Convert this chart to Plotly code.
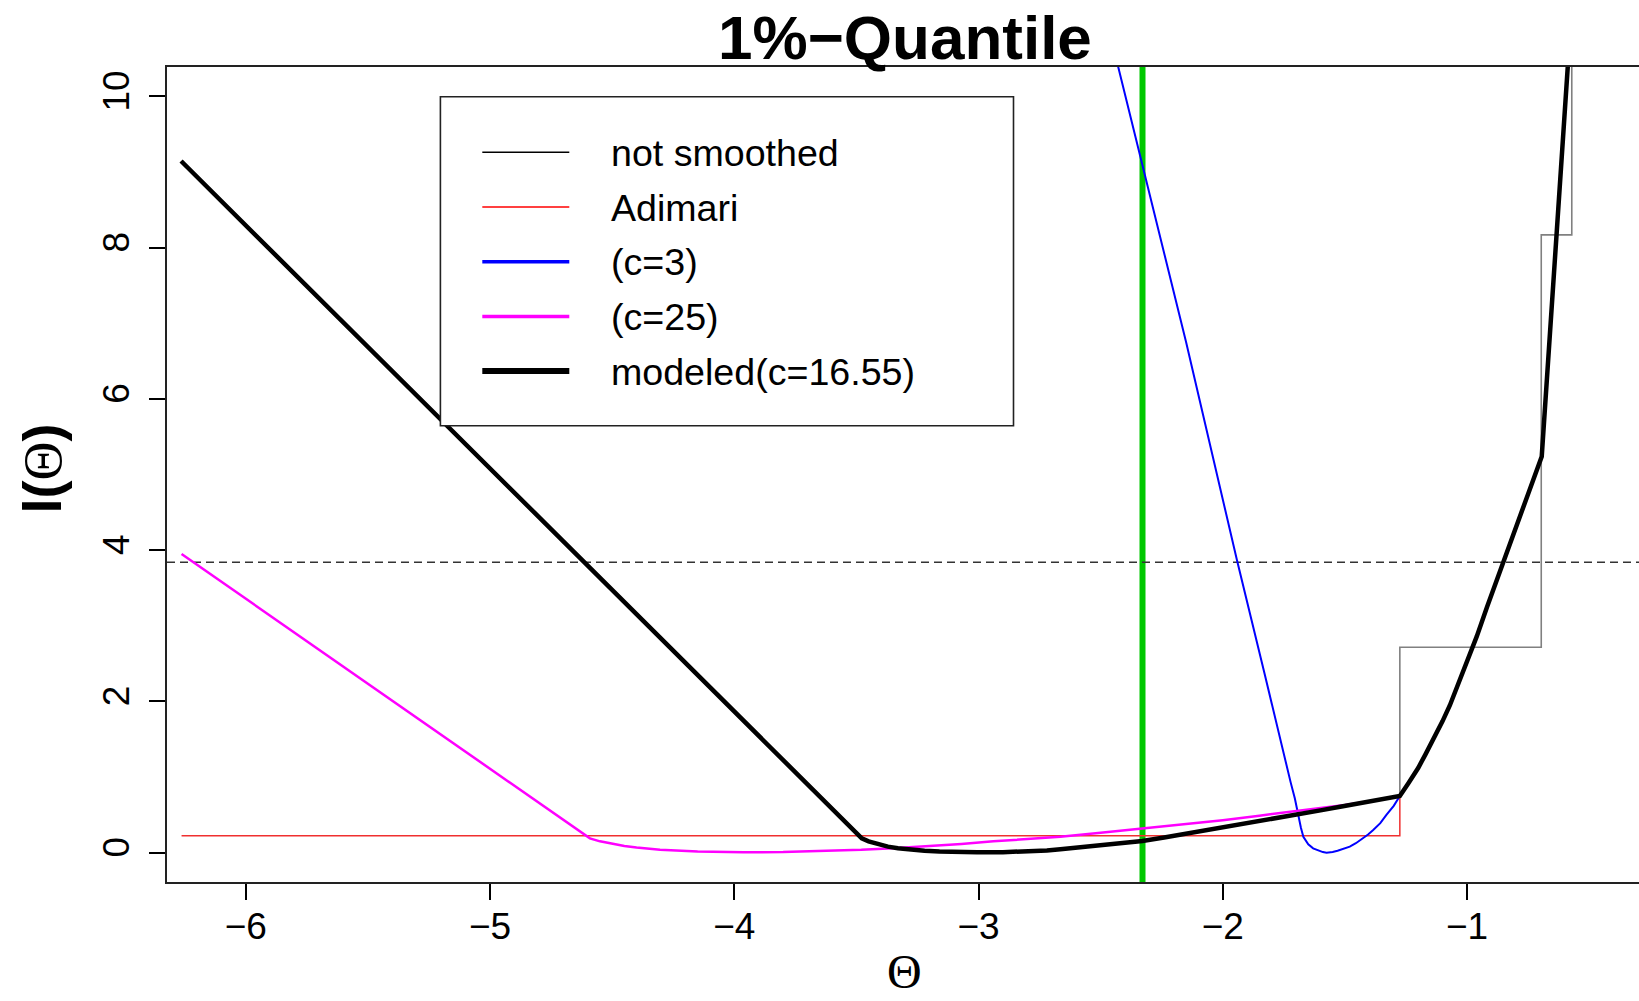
import plotly.graph_objects as go

# ---- profile likelihood curves for the 1% quantile ----
theta_modeled = [-6.265, -3.478, -3.45, -3.42, -3.371, -3.33, -3.28, -3.221, -3.16, -3.10,
                 -3.006, -2.90, -2.792, -2.72, -2.665, -2.578, -2.45, -2.329, -2.24, -2.150,
                 -2.04, -1.936, -1.82, -1.696, -1.60, -1.508, -1.39, -1.275,
                 -1.24, -1.20, -1.17, -1.138, -1.10, -1.07, -1.035, -1.00, -0.96, -0.918,
                 -0.885, -0.851, -0.815, -0.78, -0.735, -0.694, -0.540]
l_modeled = [9.147, 0.19, 0.15, 0.12, 0.08, 0.058, 0.04, 0.027, 0.016, 0.01,
             0.005, 0.007, 0.016, 0.03, 0.045, 0.07, 0.11, 0.155, 0.20, 0.25,
             0.305, 0.36, 0.43, 0.50, 0.56, 0.615, 0.68, 0.75,
             0.92, 1.12, 1.30, 1.49, 1.74, 1.95, 2.23, 2.52, 2.86, 3.25,
             3.54, 3.84, 4.17, 4.50, 4.88, 5.24, 12.69]

theta_c25 = [-6.263, -4.591, -4.55, -4.50, -4.45, -4.40, -4.304, -4.15, -3.963, -3.80,
             -3.622, -3.48, -3.349, -3.212, -3.07, -2.939, -2.80, -2.665, -2.50, -2.329,
             -2.16, -2.00, -1.85, -1.691, -1.50, -1.39, -1.275]
l_c25 = [3.95, 0.19, 0.15, 0.115, 0.09, 0.07, 0.04, 0.017, 0.005, 0.008,
         0.022, 0.038, 0.06, 0.085, 0.115, 0.15, 0.18, 0.21, 0.265, 0.32,
         0.375, 0.43, 0.49, 0.55, 0.63, 0.685, 0.75]

theta_c3 = [-2.520, -2.428, -2.150, -2.000, -1.942, -1.829, -1.773, -1.722, -1.705, -1.691,
            -1.680, -1.670, -1.660, -1.650, -1.630, -1.610, -1.590, -1.575, -1.550, -1.530,
            -1.505, -1.480, -1.455, -1.430, -1.405, -1.384, -1.355, -1.330, -1.300, -1.275]
l_c3 = [11.62, 10.39, 6.75, 4.66, 3.87, 2.37, 1.60, 0.93, 0.72, 0.48,
        0.33, 0.21, 0.15, 0.11, 0.058, 0.03, 0.008, 0.0, 0.008, 0.025,
        0.05, 0.08, 0.125, 0.18, 0.24, 0.30, 0.39, 0.50, 0.62, 0.75]

theta_adimari = [-6.263, -1.275, -1.275]
l_adimari = [0.225, 0.225, 0.75]

# empirical (unsmoothed) step function
theta_steps = [-1.275, -1.275, -0.696, -0.571]
l_steps = [0.75, 2.716, 8.17, 12.5]

THETA_HAT = -2.3286       # point estimate
CHISQ_CUTOFF = 3.841      # 95% chi-square(1) cutoff

x_ticks = [-6, -5, -4, -3, -2, -1]
y_ticks = [0, 2, 4, 6, 8, 10]

legend_labels = ["not smoothed", "Adimari", "(c=3)", "(c=25)", "modeled(c=16.55)"]
legend_colors = ["#000000", "#FF0000", "#0000FF", "#FF00FF", "#000000"]
legend_widths = [1.4, 1.4, 3.5, 3.5, 6]

# ---- page geometry (pixels) ----
FIG_W, FIG_H = 1639, 1001
L, T, R_EDGE, B_EDGE = 167, 67, 1639, 882
W, H = R_EDGE - L, B_EDGE - T


def px_x(px):
    return (px - L) / W


def px_y(py):
    return 1 - (py - T) / H


SANS = "Liberation Sans, Arial, sans-serif"
SERIF = "Liberation Serif"

fig = go.Figure()

fig.add_trace(go.Scatter(x=theta_steps, y=l_steps, mode="lines", line_shape="hv",
                         line=dict(color="#808080", width=1.6), name="not smoothed"))
fig.add_trace(go.Scatter(x=theta_adimari, y=l_adimari, mode="lines",
                         line=dict(color="#F03030", width=1.5), name="Adimari"))
fig.add_trace(go.Scatter(x=theta_c3, y=l_c3, mode="lines",
                         line=dict(color="#0000FF", width=2), name="(c=3)"))
fig.add_trace(go.Scatter(x=theta_c25, y=l_c25, mode="lines",
                         line=dict(color="#FF00FF", width=2.5), name="(c=25)"))
fig.add_trace(go.Scatter(x=theta_modeled, y=l_modeled, mode="lines",
                         line=dict(color="#000000", width=4.5), name="modeled(c=16.55)"))

shapes = [
    # estimate and cutoff reference lines
    dict(type="line", xref="x", yref="paper", x0=THETA_HAT, x1=THETA_HAT, y0=0, y1=1,
         line=dict(color="#00C800", width=6), layer="below"),
    dict(type="line", xref="paper", yref="y", x0=0, x1=1, y0=CHISQ_CUTOFF, y1=CHISQ_CUTOFF,
         line=dict(color="#333333", width=1.6, dash="8px,5px"), layer="below"),
    # legend frame
    dict(type="rect", xref="paper", yref="paper",
         x0=px_x(440.4), x1=px_x(1013.5), y0=px_y(425.7), y1=px_y(96.7),
         line=dict(color="#222222", width=1.6), fillcolor="white", layer="above"),
]

annotations = []
row_y = [152.3, 207.0, 261.7, 316.4, 371.0]
for lab, col, wid, ry in zip(legend_labels, legend_colors, legend_widths, row_y):
    shapes.append(dict(type="line", xref="paper", yref="paper",
                       x0=px_x(482.3), x1=px_x(569.3), y0=px_y(ry), y1=px_y(ry),
                       line=dict(color=col, width=wid), layer="above"))
    annotations.append(dict(text=lab, xref="paper", yref="paper", x=px_x(609), y=px_y(ry + 0.5),
                            xanchor="left", yanchor="middle", showarrow=False,
                            font=dict(family=SANS, size=37.6, color="black")))

# title and axis titles
annotations.append(dict(text="<b>1%\u2212Quantile</b>", xref="paper", yref="paper",
                        x=px_x(904.5), y=px_y(37.5), xanchor="center", yanchor="middle",
                        showarrow=False, font=dict(family=SANS, size=62, color="black")))
annotations.append(dict(text="\u0398", xref="paper", yref="paper",
                        x=px_x(904), y=px_y(1000), xanchor="center", yanchor="bottom",
                        showarrow=False, font=dict(family=SERIF, size=48, color="black")))
annotations.append(dict(text="<b>l(</b><span style=\"font-family:Liberation Serif\">\u0398</span><b>)</b>",
                        xref="paper", yref="paper", x=px_x(42), y=px_y(468.5),
                        xanchor="center", yanchor="middle", textangle=-90,
                        showarrow=False, font=dict(family=SANS, size=54, color="black")))

fig.update_layout(
    width=FIG_W, height=FIG_H,
    margin=dict(l=L, r=FIG_W - R_EDGE, t=T, b=FIG_H - B_EDGE, pad=0),
    paper_bgcolor="white", plot_bgcolor="white",
    showlegend=False,
    shapes=shapes, annotations=annotations,
)

fig.update_xaxes(range=[-6.3226, -0.2958], tickvals=x_ticks, ticks="outside", ticklen=16,
                 tickwidth=1.5, tickcolor="black", showgrid=False, zeroline=False,
                 showline=True, mirror=True, linecolor="#222222", linewidth=1.6,
                 ticklabelstandoff=-5,
                 tickfont=dict(family=SANS, size=37, color="black"), automargin=False)
fig.update_yaxes(range=[-0.3875, 10.390], tickvals=y_ticks, ticks="outside", ticklen=16,
                 tickwidth=1.5, tickcolor="black", showgrid=False, zeroline=False,
                 showline=True, mirror=False, linecolor="#222222", linewidth=1.6,
                 tickangle=-90, ticklabelstandoff=5,
                 tickfont=dict(family=SANS, size=37, color="black"), automargin=False)

fig.write_html("out.html")
